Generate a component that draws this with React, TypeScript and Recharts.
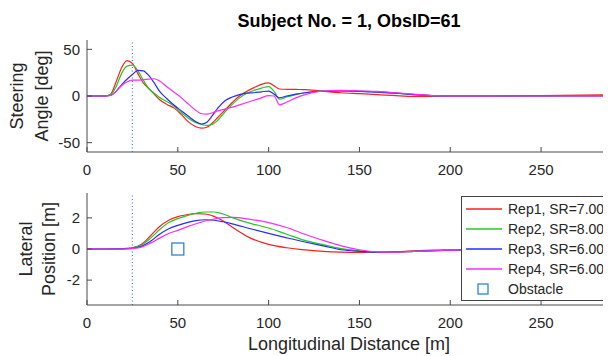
import React from 'react';
import { LineChart, ComposedChart, Line, Scatter, XAxis, YAxis, ReferenceLine, Legend } from 'recharts';

const FONT = '"Liberation Sans", Arial, Helvetica, sans-serif';
const AXIS = '#4a4a4a';
const TEXT = '#262626';
const REP_COLORS = ['#ff1f1f', '#1fcc1f', '#2a2aff', '#ff2bff'];
const OBS_COLOR = '#2d86d2';

const titleText = 'Subject No. = 1, ObsID=61';
const repNames = ['Rep1, SR=7.00', 'Rep2, SR=8.00', 'Rep3, SR=6.00', 'Rep4, SR=6.00'];
const obstacleName = 'Obstacle';

const distTicks = [0, 50, 100, 150, 200, 250];
const steerTicks = [-50, 0, 50];
const latTicks = [-2, 0, 2];
const triggerX = 25;

// steering angle [deg] vs longitudinal distance [m]
const steerX = [0, 10, 13, 16, 19, 22, 25, 28, 31, 34, 37, 40, 44, 48, 52, 56, 60, 63, 66, 69, 72, 76, 80, 84, 88, 92, 96, 100, 103, 106, 110, 115, 120, 128, 140, 150, 160, 170, 180, 190, 200, 220, 250, 288];
const steerRep1 = [0, 0, 2, 15, 30, 38, 35, 24, 14, 8, 2, -4, -9, -13, -20, -28, -33, -34.5, -33.5, -29, -23, -15, -7, 0, 5, 9, 12.5, 14, 11, 7.5, 7.2, 7, 6.8, 5.5, 3.5, 2.5, 1.5, 0.3, -0.5, -0.3, 0, 0, 0.3, 1.4];
const steerRep2 = [0, 0, 1.5, 10, 24, 32, 33, 27, 17, 8, 3, -1.5, -6, -11, -18, -24, -28.5, -30.5, -31.5, -30.5, -26, -17, -9, -2, 3, 6, 8.5, 10, 5, -3.5, -1, 1.5, 3.5, 5, 5.5, 5, 4.5, 3, 1.5, 0.5, 0, 0, 0, 0.3];
const steerRep3 = [0, 0, 0.5, 5, 12, 18, 23, 27.5, 27, 22, 14, 5, -3, -10, -16, -22, -27.5, -30, -28, -21, -13, -5, -1, 1.5, 3, 3.5, 4.5, 5.3, 2, -2, 0, 2, 3.5, 5, 5.5, 5, 4, 3, 1.5, 0.5, 0, 0, 0, 0];
const steerRep4 = [0, 0, 0.5, 5, 11, 15, 17, 17, 17.5, 18, 18.5, 16, 10, 4, -2, -9, -15.5, -19, -19.5, -18, -16, -14, -12, -9.5, -7, -4.5, -2, 0.5, 0, -9.5, -6.5, -2, 1.5, 5, 6, 5.5, 5, 3.5, 2, 0.5, 0, 0, 0, 0];

// lateral position [m] vs longitudinal distance [m]
const latX = [0, 10, 20, 25, 30, 35, 40, 45, 50, 55, 60, 65, 70, 75, 80, 90, 100, 110, 120, 130, 140, 150, 160, 170, 180, 200, 220, 250, 288];
const latRep1 = [0, 0, 0.02, 0.08, 0.3, 0.85, 1.45, 1.85, 2.08, 2.2, 2.28, 2.25, 2.1, 1.8, 1.4, 0.7, 0.3, 0.08, -0.06, -0.15, -0.2, -0.22, -0.22, -0.18, -0.12, -0.05, 0, 0, 0];
const latRep2 = [0, 0, 0.02, 0.08, 0.25, 0.7, 1.25, 1.7, 1.95, 2.15, 2.3, 2.38, 2.38, 2.25, 2.02, 1.65, 1.35, 0.95, 0.55, 0.28, 0.02, -0.12, -0.2, -0.2, -0.15, -0.08, -0.03, 0, 0];
const latRep3 = [0, 0, 0.01, 0.05, 0.18, 0.5, 0.95, 1.3, 1.52, 1.7, 1.83, 1.88, 1.85, 1.75, 1.62, 1.3, 1.0, 0.72, 0.45, 0.2, -0.05, -0.15, -0.2, -0.18, -0.15, -0.08, -0.05, -0.03, 0];
const latRep4 = [0, 0, 0, 0.03, 0.12, 0.38, 0.7, 1.0, 1.2, 1.42, 1.62, 1.8, 1.93, 2.02, 2.03, 1.9, 1.7, 1.38, 0.95, 0.55, 0.2, -0.05, -0.18, -0.2, -0.15, -0.08, -0.03, 0, 0];

const obstacleX = [50];
const obstacleY = [0];

const steerRows = steerX.map((x, i) => ({ x, rep1: steerRep1[i], rep2: steerRep2[i], rep3: steerRep3[i], rep4: steerRep4[i] }));
const latRows = latX.map((x, i) => ({ x, rep1: latRep1[i], rep2: latRep2[i], rep3: latRep3[i], rep4: latRep4[i] }));
const obstacleRows = obstacleX.map((x, i) => ({ x, y: obstacleY[i] }));

const tickStyle = { fill: TEXT, fontSize: 15, fontFamily: FONT };

const yTitle = (lines: string[], xs: number[]) => (props: any) => {
  const vb = props.viewBox ?? {};
  const cy = (vb.y ?? 0) + (vb.height ?? 0) / 2;
  const x0 = vb.x ?? 0;
  return (
    <g>
      {lines.map((t, i) => (
        <text
          key={t}
          x={x0 + xs[i]}
          y={cy}
          transform={`rotate(-90 ${x0 + xs[i]} ${cy})`}
          textAnchor="middle"
          dominantBaseline="central"
          fontSize={18}
          fill={TEXT}
          fontFamily={FONT}
        >
          {t}
        </text>
      ))}
    </g>
  );
};

const xTitle = (props: any) => {
  const vb = props.viewBox ?? {};
  return (
    <text
      x={(vb.x ?? 0) + (vb.width ?? 0) / 2}
      y={(vb.y ?? 0) + 39}
      textAnchor="middle"
      dominantBaseline="central"
      fontSize={18}
      fill={TEXT}
      fontFamily={FONT}
    >
      Longitudinal Distance [m]
    </text>
  );
};

const ObstacleBox = (p: any) => (
  <rect x={p.cx - 6} y={p.cy - 6} width={12} height={12} fill="none" stroke={OBS_COLOR} strokeWidth={1.3} />
);

const LegendBox = (props: any) => {
  const raw: any[] = props.payload ?? [];
  // lines first, the obstacle marker last, as in the legend of the reference
  const items = [...raw.filter((it) => it.value !== obstacleName), ...raw.filter((it) => it.value === obstacleName)];
  return (
    <div
      style={{
        background: '#fff',
        border: '1px solid #444',
        width: 160,
        height: 105,
        boxSizing: 'border-box',
        paddingTop: 2,
        fontFamily: FONT,
        fontSize: 14,
        color: TEXT,
      }}
    >
      {items.map((it, i) => {
        const isObs = it.value === obstacleName;
        return (
          <div key={i} style={{ height: 20, display: 'flex', alignItems: 'center' }}>
            <svg width={46} height={20} style={{ flex: 'none' }}>
              {isObs ? (
                <rect x={16} y={5} width={10} height={10} fill="none" stroke={OBS_COLOR} strokeWidth={1.3} />
              ) : (
                <line x1={4} x2={40} y1={10} y2={10} stroke={it.color} strokeWidth={1.3} />
              )}
            </svg>
            <span style={{ whiteSpace: 'nowrap' }}>{it.value}</span>
          </div>
        );
      })}
    </div>
  );
};

const repKeys = ['rep1', 'rep2', 'rep3', 'rep4'];

export default function App() {
  return (
    <div style={{ position: 'relative', width: 611, height: 356, margin: '-8px 0 0 -8px', overflow: 'hidden', background: '#fff' }}>
      <div
        style={{
          position: 'absolute',
          left: 87,
          top: 11,
          width: 524,
          textAlign: 'center',
          fontFamily: FONT,
          fontWeight: 'bold',
          fontSize: 18,
          lineHeight: '20px',
          color: '#000',
        }}
      >
        {titleText}
      </div>

      <div style={{ position: 'absolute', left: 0, top: 0 }}>
        <LineChart width={611} height={180} data={steerRows} margin={{ top: 40, right: 0, bottom: 8, left: 0 }}>
          <XAxis
            type="number"
            dataKey="x"
            domain={[0, 288.5]}
            ticks={distTicks}
            allowDataOverflow
            height={20}
            tickSize={-5}
            tickMargin={17}
            tick={tickStyle}
            axisLine={{ stroke: AXIS }}
            tickLine={{ stroke: AXIS }}
          />
          <YAxis
            type="number"
            domain={[-60, 60]}
            ticks={steerTicks}
            allowDataOverflow
            width={87}
            tickSize={-5}
            tickMargin={12}
            tick={tickStyle}
            axisLine={{ stroke: AXIS }}
            tickLine={{ stroke: AXIS }}
            label={{ content: yTitle(['Steering', 'Angle [deg]'], [17, 41.5]) }}
          />
          <ReferenceLine x={triggerX} stroke={OBS_COLOR} strokeDasharray="1 2.5" strokeWidth={1.2} />
          {repKeys.map((k, i) => (
            <Line
              key={k}
              type="monotone"
              dataKey={k}
              name={repNames[i]}
              stroke={REP_COLORS[i]}
              strokeWidth={1.2}
              dot={false}
              activeDot={false}
              isAnimationActive={false}
            />
          ))}
        </LineChart>
      </div>

      <div style={{ position: 'absolute', left: 0, top: 180 }}>
        <ComposedChart width={611} height={176} data={latRows} margin={{ top: 13, right: 0, bottom: 31, left: 0 }}>
          <XAxis
            type="number"
            dataKey="x"
            domain={[0, 288.5]}
            ticks={distTicks}
            allowDataOverflow
            height={20}
            tickSize={-5}
            tickMargin={17}
            tick={tickStyle}
            axisLine={{ stroke: AXIS }}
            tickLine={{ stroke: AXIS }}
            label={{ content: xTitle }}
          />
          <YAxis
            type="number"
            domain={[-3.6, 3.6]}
            ticks={latTicks}
            allowDataOverflow
            width={87}
            tickSize={-5}
            tickMargin={12}
            tick={tickStyle}
            axisLine={{ stroke: AXIS }}
            tickLine={{ stroke: AXIS }}
            label={{ content: yTitle(['Lateral', 'Position [m]'], [25.5, 49]) }}
          />
          <ReferenceLine x={triggerX} stroke={OBS_COLOR} strokeDasharray="1 2.5" strokeWidth={1.2} />
          {repKeys.map((k, i) => (
            <Line
              key={k}
              type="monotone"
              dataKey={k}
              name={repNames[i]}
              stroke={REP_COLORS[i]}
              strokeWidth={1.2}
              dot={false}
              activeDot={false}
              isAnimationActive={false}
            />
          ))}
          <Scatter
            data={obstacleRows}
            dataKey="y"
            name={obstacleName}
            fill={OBS_COLOR}
            legendType="square"
            shape={ObstacleBox}
            isAnimationActive={false}
          />
          <Legend
            layout="vertical"
            align="center"
            verticalAlign="middle"
            content={LegendBox}
            wrapperStyle={{ position: 'absolute', left: 461, top: 16, width: 160, height: 105 }}
          />
        </ComposedChart>
      </div>
    </div>
  );
}
